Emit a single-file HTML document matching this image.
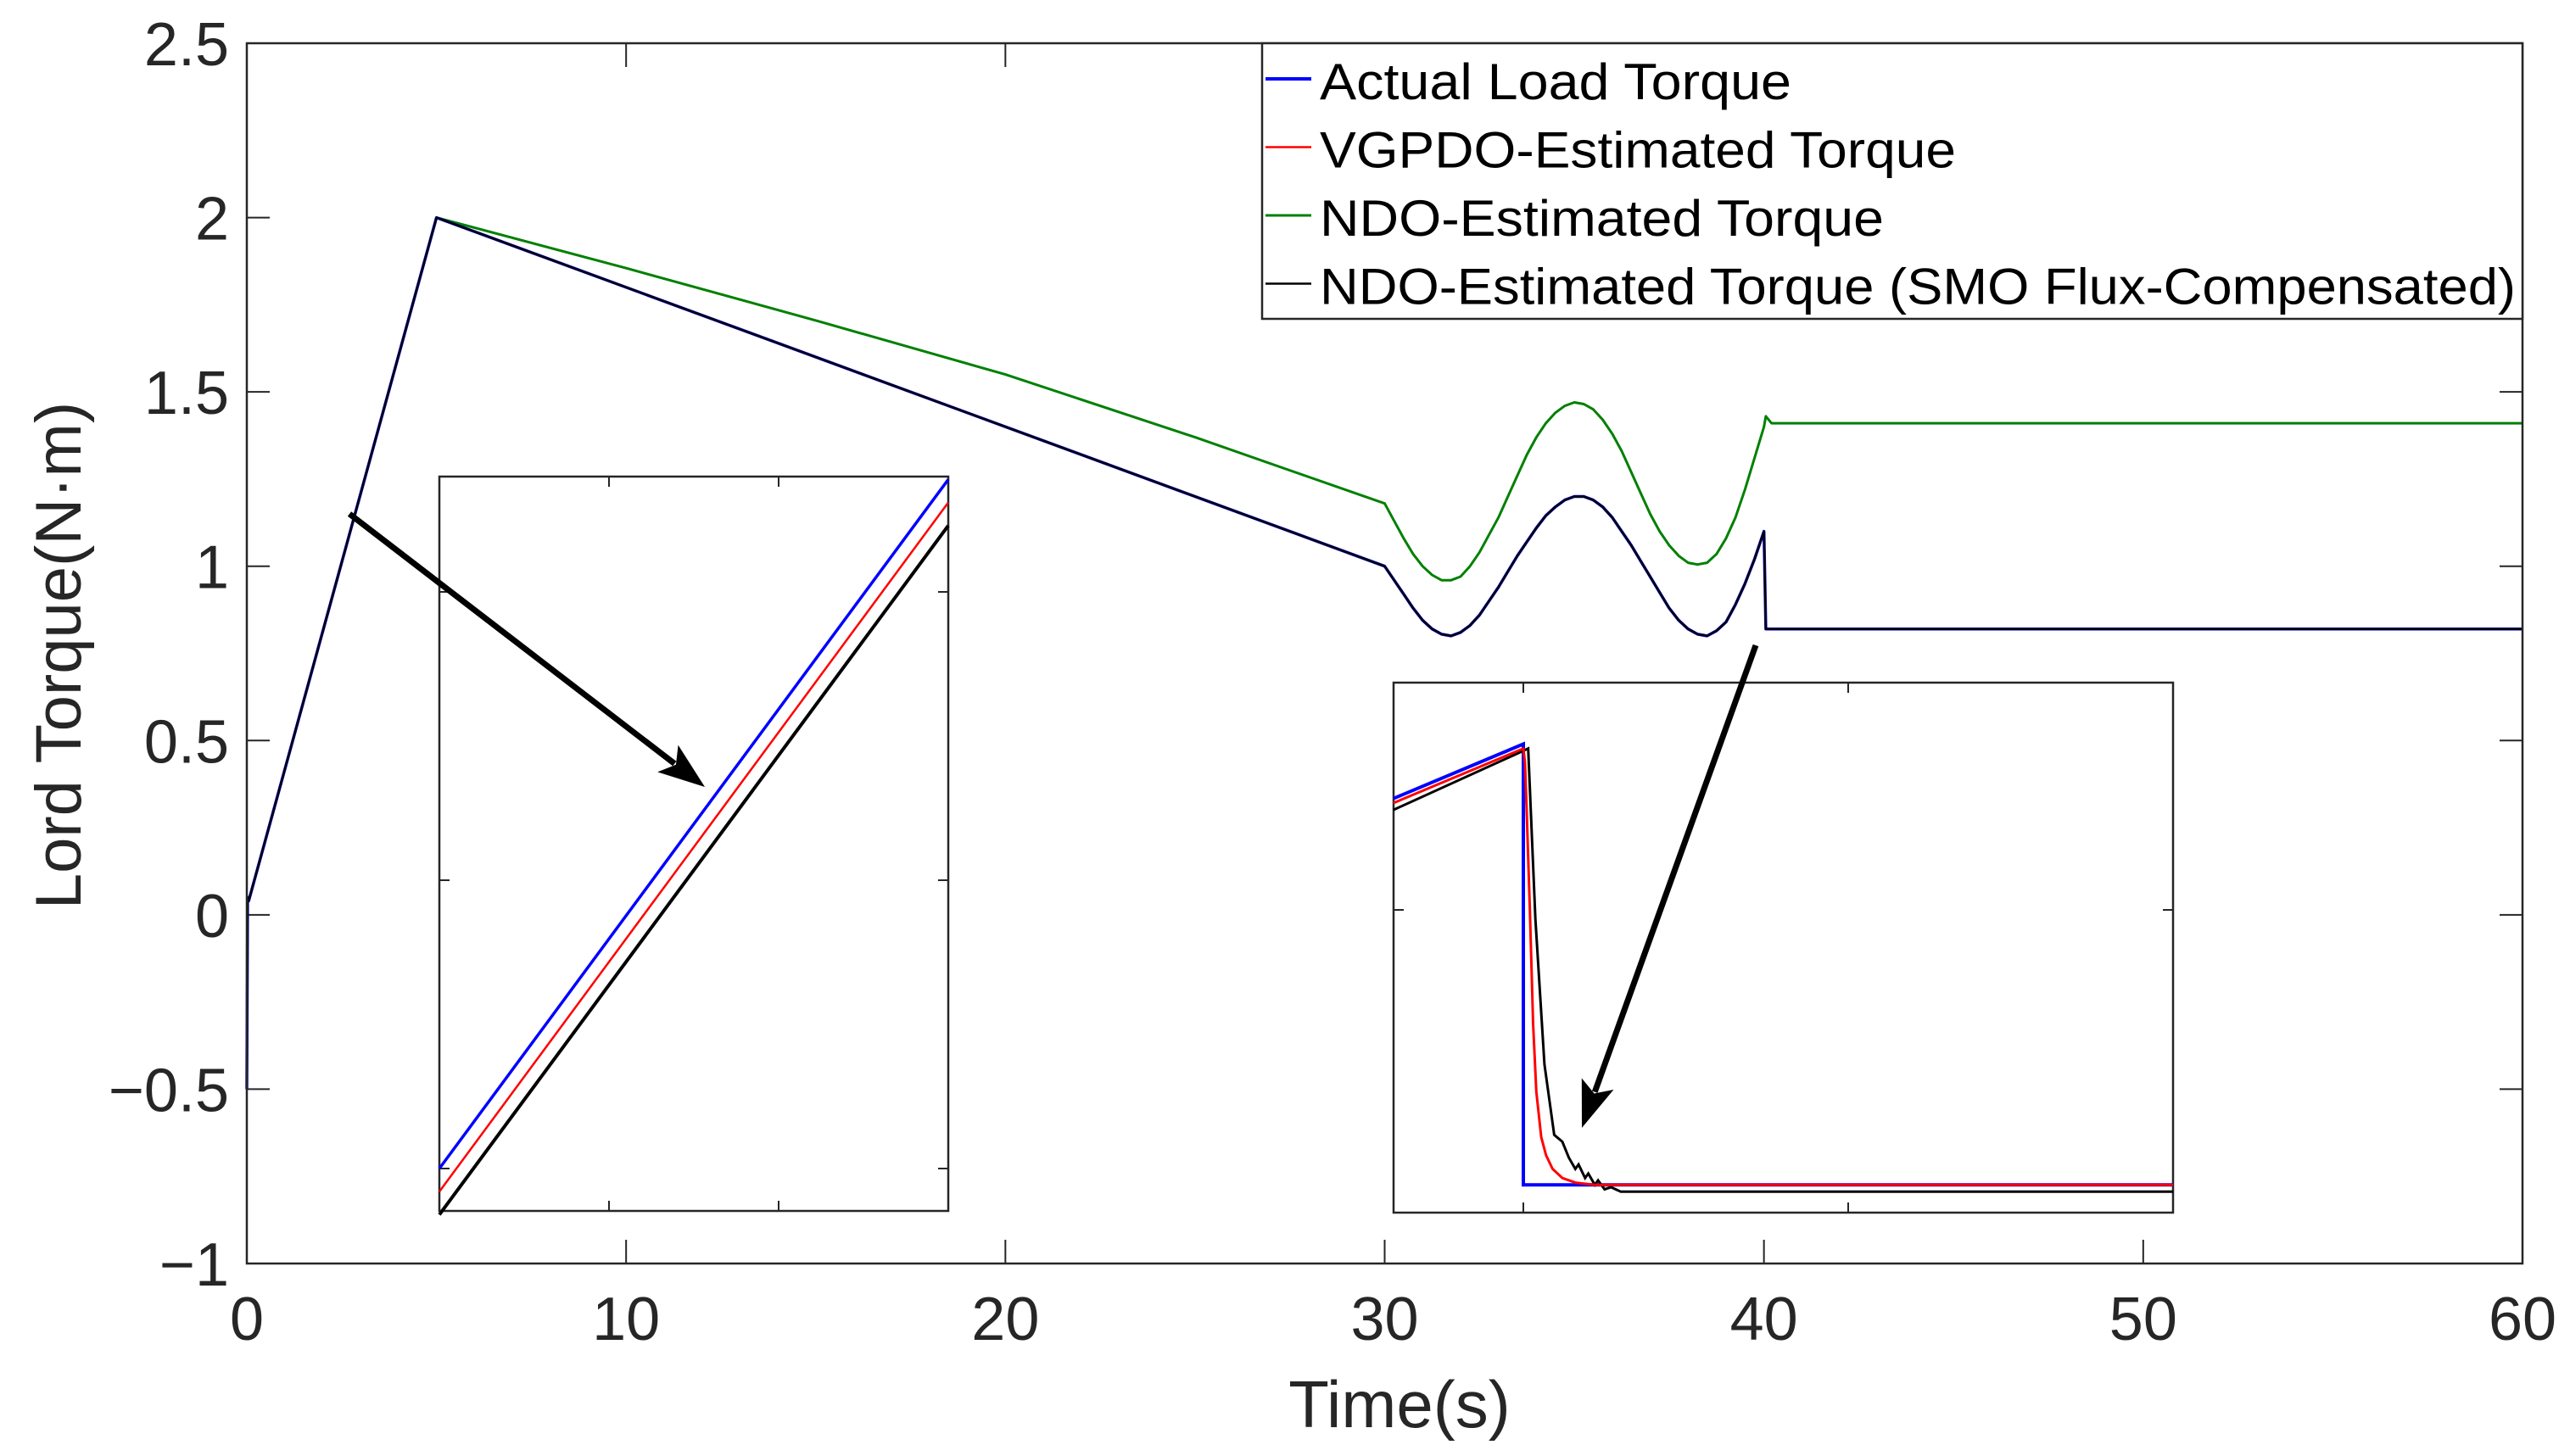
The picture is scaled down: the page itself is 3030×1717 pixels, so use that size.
<!DOCTYPE html>
<html><head><meta charset="utf-8"><style>
html,body{margin:0;padding:0;background:#fff;}
svg{display:block;font-family:"Liberation Sans",Arial,sans-serif;}
</style></head><body>
<svg id="chart" width="3030" height="1717" viewBox="0 0 3030 1717" xmlns="http://www.w3.org/2000/svg">
<rect x="0" y="0" width="3030" height="1717" fill="#fff"/>
<g id="main"></g>
</svg>
<script>
// ---- main chart data ----
const xTicks = [0, 10, 20, 30, 40, 50, 60];
const yTicks = [-1, -0.5, 0, 0.5, 1, 1.5, 2, 2.5];
const yTickLabels = ["\u22121", "\u22120.5", "0", "0.5", "1", "1.5", "2", "2.5"];
const actualT = [0, 0.02, 0.05, 5, 30, 30.25, 30.5, 30.75, 31, 31.25, 31.5, 31.75, 32, 32.25, 32.5, 32.75, 33, 33.25, 33.5, 33.75, 34, 34.25, 34.5, 34.75, 35, 35.25, 35.5, 35.75, 36, 36.25, 36.5, 36.75, 37, 37.25, 37.5, 37.75, 38, 38.25, 38.5, 38.75, 39, 39.25, 39.5, 39.75, 40, 40.05, 60];
const actualV = [-0.5, 0.05, 0.04, 2.0, 1.00, 0.96, 0.92, 0.88, 0.845, 0.82, 0.805, 0.80, 0.81, 0.83, 0.86, 0.90, 0.94, 0.985, 1.03, 1.07, 1.11, 1.145, 1.17, 1.19, 1.20, 1.20, 1.19, 1.17, 1.14, 1.10, 1.06, 1.015, 0.97, 0.925, 0.88, 0.845, 0.82, 0.805, 0.80, 0.815, 0.84, 0.89, 0.95, 1.02, 1.10, 0.82, 0.82];
const greenT = [0, 0.02, 0.05, 5, 10, 15, 20, 25, 30, 30.25, 30.5, 30.75, 31, 31.25, 31.5, 31.75, 32, 32.25, 32.5, 32.75, 33, 33.25, 33.5, 33.75, 34, 34.25, 34.5, 34.75, 35, 35.25, 35.5, 35.75, 36, 36.25, 36.5, 36.75, 37, 37.25, 37.5, 37.75, 38, 38.25, 38.5, 38.75, 39, 39.25, 39.5, 39.75, 40, 40.05, 40.2, 60];
const greenV = [-0.5, 0.05, 0.04, 2.0, 1.855, 1.705, 1.55, 1.37, 1.18, 1.13, 1.08, 1.035, 1.0, 0.975, 0.96, 0.96, 0.97, 1.0, 1.04, 1.09, 1.14, 1.20, 1.26, 1.32, 1.37, 1.41, 1.44, 1.46, 1.47, 1.465, 1.45, 1.42, 1.38, 1.33, 1.27, 1.21, 1.15, 1.10, 1.06, 1.03, 1.01, 1.005, 1.01, 1.035, 1.08, 1.14, 1.22, 1.31, 1.40, 1.43, 1.41, 1.41];
// ---- inset 1 data (ramp zoom) ----
const in1X = [0, 3];
const in1Blue = [0.0, 2.39];
const in1Red = [-0.08, 2.31];
const in1Black = [-0.16, 2.23];
const in1XTicks = [1, 2];
const in1YTicks = [0, 1, 2];
// ---- inset 2 data (step zoom) ----
const in2BlueX = [0.6, 1.0, 1.0, 3.0];
const in2BlueV = [0.49, 0.73, -1.21, -1.21];
const in2RedX = [0.6, 1.0, 1.005, 1.01, 1.02, 1.03, 1.04, 1.055, 1.07, 1.09, 1.12, 1.16, 1.22, 3.0];
const in2RedV = [0.47, 0.71, 0.65, 0.45, 0.0, -0.5, -0.8, -1.0, -1.08, -1.14, -1.18, -1.20, -1.21, -1.21];
const in2BlackX = [0.6, 1.0, 1.015, 1.037, 1.065, 1.095, 1.12, 1.14, 1.16, 1.17, 1.19, 1.2, 1.22, 1.23, 1.25, 1.27, 1.3, 1.4, 3.0];
const in2BlackV = [0.44, 0.70, 0.71, -0.04, -0.68, -0.99, -1.02, -1.09, -1.14, -1.12, -1.18, -1.16, -1.21, -1.19, -1.23, -1.22, -1.24, -1.24, -1.24];
const in2XTicks = [1, 2];
const in2YTicks = [0];

const NS = "http://www.w3.org/2000/svg";
const root = document.getElementById('main');
function mk(tag, attrs, parent) {
  const e = document.createElementNS(NS, tag);
  for (const k in attrs) e.setAttribute(k, attrs[k]);
  (parent || root).appendChild(e);
  return e;
}
const L = 291, R = 2974, T = 51, B = 1490;
const xS = t => L + (t - 0) / 60 * (R - L);
const yS = v => T + (2.5 - v) / 3.5 * (B - T);
function poly(xs, vs, fx, fy) { return xs.map((x, i) => fx(x).toFixed(1) + "," + fy(vs[i]).toFixed(1)).join(" "); }

xTicks.forEach((t, i) => {
  const x = xS(t);
  let e = mk('line', {x1: x, y1: B, x2: x, y2: B - 28, stroke: '#262626', 'stroke-width': 2});
  
  
  e = mk('line', {x1: x, y1: T, x2: x, y2: T + 28, stroke: '#262626', 'stroke-width': 2});
  
  
  e = mk('text', {x: x, y: 1580, 'font-size': 72, fill: '#262626', 'text-anchor': 'middle'});
  e.textContent = String(t);
  
  
});
yTicks.forEach((v, i) => {
  const y = yS(v);
  let e = mk('line', {x1: L, y1: y, x2: L + 27, y2: y, stroke: '#262626', 'stroke-width': 2});
  
  
  e = mk('line', {x1: R, y1: y, x2: R - 27, y2: y, stroke: '#262626', 'stroke-width': 2});
  
  
  e = mk('text', {x: 270, y: y + 26, 'font-size': 72, fill: '#262626', 'text-anchor': 'end'});
  e.textContent = yTickLabels[i];
  
  
});

function series(xs, vs, color, w, name) {
  const e = mk('polyline', {points: poly(xs, vs, xS, yS), fill: 'none', stroke: color, 'stroke-width': w, 'stroke-linejoin': 'round'});
  
  
}
series(greenT, greenV, '#008000', 3, 'ndo-series');
series(actualT, actualV, '#0000ff', 3.5, 'actual-load-series');
series(actualT, actualV, '#ff0000', 2, 'vgpdo-series');
series(actualT, actualV, '#000000', 2.5, 'ndo-smo-series');

let fr = mk('rect', {x: L, y: T, width: R - L, height: B - T, fill: 'none', stroke: '#262626', 'stroke-width': 2.5});



function arrow(x1, y1, x2, y2, name) {
  const g = mk('g', {});
  
  
  const dx = x2 - x1, dy = y2 - y1, len = Math.hypot(dx, dy), ux = dx / len, uy = dy / len;
  const hl = 55, hw = 20;
  const bx = x2 - ux * hl, by = y2 - uy * hl;
  mk('line', {x1: x1, y1: y1, x2: bx + ux * 10, y2: by + uy * 10, stroke: '#000', 'stroke-width': 7}, g);
  mk('polygon', {points: `${x2},${y2} ${bx - uy * hw},${by + ux * hw} ${bx + ux * 12},${by + uy * 12} ${bx + uy * hw},${by - ux * hw}`, fill: '#000'}, g);
}

(function(){
  const l = 518, r = 1118, t = 562, b = 1428;
  const fx = x => l + (x - 0) / 3 * (r - l);
  const fy = v => 1378 - v * 340;
  const g = mk('g', {});
  
  
  mk('rect', {x: l, y: t, width: r - l, height: b - t, fill: '#fff', stroke: '#262626', 'stroke-width': 2.5}, g);
  in1XTicks.forEach(v => { mk('line', {x1: fx(v), y1: b, x2: fx(v), y2: b - 12, stroke: '#262626', 'stroke-width': 2}, g); mk('line', {x1: fx(v), y1: t, x2: fx(v), y2: t + 12, stroke: '#262626', 'stroke-width': 2}, g); });
  in1YTicks.forEach(v => { mk('line', {x1: l, y1: fy(v), x2: l + 12, y2: fy(v), stroke: '#262626', 'stroke-width': 2}, g); mk('line', {x1: r, y1: fy(v), x2: r - 12, y2: fy(v), stroke: '#262626', 'stroke-width': 2}, g); });
  let e = mk('polyline', {points: poly(in1X, in1Blue, fx, fy), fill: 'none', stroke: '#0000ff', 'stroke-width': 3.5}, g);
   
  e = mk('polyline', {points: poly(in1X, in1Red, fx, fy), fill: 'none', stroke: '#ff0000', 'stroke-width': 2.5}, g);
   
  e = mk('polyline', {points: poly(in1X, in1Black, fx, fy), fill: 'none', stroke: '#000', 'stroke-width': 4}, g);
   
})();

(function(){
  const l = 1643, r = 2562, t = 805, b = 1430;
  const fx = x => 1796 + (x - 1) * 383;
  const fy = v => 1073 - v * 268;
  const g = mk('g', {});
  
  
  mk('rect', {x: l, y: t, width: r - l, height: b - t, fill: '#fff', stroke: '#262626', 'stroke-width': 2.5}, g);
  in2XTicks.forEach(v => { mk('line', {x1: fx(v), y1: b, x2: fx(v), y2: b - 12, stroke: '#262626', 'stroke-width': 2}, g); mk('line', {x1: fx(v), y1: t, x2: fx(v), y2: t + 12, stroke: '#262626', 'stroke-width': 2}, g); });
  in2YTicks.forEach(v => { mk('line', {x1: l, y1: fy(v), x2: l + 12, y2: fy(v), stroke: '#262626', 'stroke-width': 2}, g); mk('line', {x1: r, y1: fy(v), x2: r - 12, y2: fy(v), stroke: '#262626', 'stroke-width': 2}, g); });
  let e = mk('polyline', {points: poly(in2BlueX, in2BlueV, fx, fy), fill: 'none', stroke: '#0000ff', 'stroke-width': 4}, g);
   
  e = mk('polyline', {points: poly(in2BlackX, in2BlackV, fx, fy), fill: 'none', stroke: '#000', 'stroke-width': 3}, g);
   
  e = mk('polyline', {points: poly(in2RedX, in2RedV, fx, fy), fill: 'none', stroke: '#ff0000', 'stroke-width': 3, 'stroke-linejoin': 'round'}, g);
   
})();

arrow(412, 606, 831, 928, 'arrow-to-inset1');
arrow(2070, 761, 1865, 1330, 'arrow-to-inset2');

(function(){
  const g = mk('g', {});
  
  
  mk('rect', {x: 1488, y: 51, width: 1486, height: 325, fill: '#fff', stroke: '#262626', 'stroke-width': 2.5}, g);
  const names = ["Actual Load Torque", "VGPDO-Estimated Torque", "NDO-Estimated Torque", "NDO-Estimated Torque (SMO Flux-Compensated)"];
  const cols = ['#0000ff', '#ff0000', '#008000', '#000000'];
  const ws = [4, 2.5, 3, 2.5];
  const lens = [556, 750, 665, 1410];
  names.forEach((n, i) => {
    const y = 117 + i * 80.5;
    const eg = mk('g', {}, g);
    
    
    mk('line', {x1: 1492, y1: y - 24, x2: 1546, y2: y - 24, stroke: cols[i], 'stroke-width': ws[i]}, eg);
    const tx = mk('text', {x: 1556, y: y, 'font-size': 60, fill: '#000', textLength: lens[i], lengthAdjust: 'spacingAndGlyphs'}, eg);
    tx.textContent = n;
  });
})();

let xt = mk('text', {x: 1650, y: 1683, 'font-size': 78, fill: '#262626', 'text-anchor': 'middle'});
xt.textContent = 'Time(s)';


let yt = mk('text', {x: 0, y: 0, 'font-size': 76, fill: '#262626', 'text-anchor': 'middle', transform: 'translate(95,773) rotate(-90)'});
yt.textContent = 'Lord Torque(N\u00b7m)';


</script>
</body></html>
